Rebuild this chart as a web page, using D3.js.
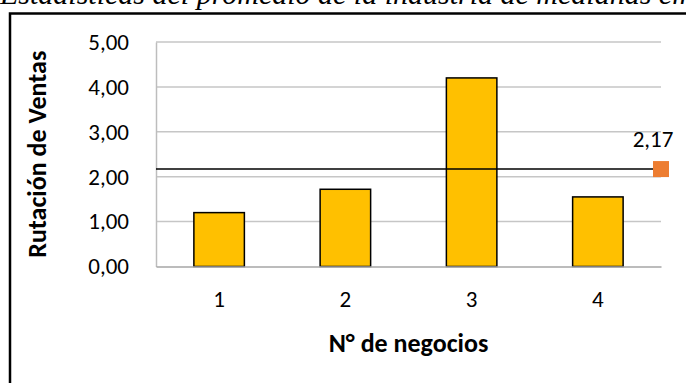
<!DOCTYPE html>
<html>
<head>
<meta charset="utf-8">
<script src="https://cdn.jsdelivr.net/npm/d3@7"></script>
<style>
  html, body { margin: 0; padding: 0; background: #fff; overflow: hidden; }
  svg { display: block; }
</style>
</head>
<body>
<svg id="chart" width="686" height="383"></svg>
<script>
// Sales turnover per business, with the industry average marked
const categories = ["1", "2", "3", "4"];
const rotacion = [1.20, 1.72, 4.20, 1.55];
const promedio = 2.17;
const yTicks = [0, 1, 2, 3, 4, 5];
const titulo = "Estadísticas del promedio de la industria de medianas empresas";
const yTitulo = "Rutación de Ventas";
const xTitulo = "N° de negocios";

const W = 686, H = 383;
const plot = { left: 156, right: 661, top: 42, bottom: 266.5 };
const sansFont = "Carlito, Calibri, Lato, 'Open Sans', sans-serif";

const svg = d3.select("#chart");
const locale = d3.formatLocale({ decimal: ",", thousands: ".", grouping: [3], currency: ["", ""] });
const fmt = locale.format(".2f");

const x = d3.scaleBand().domain(categories).range([plot.left, plot.right]).paddingInner(0.6).paddingOuter(0.3);
const y = d3.scaleLinear().domain([0, 5]).range([plot.bottom, plot.top]);

// Heading above the frame (partly outside the visible area)
svg.append("text")
  .attr("x", 0).attr("y", 4)
  .attr("font-family", "'Liberation Serif', 'Times New Roman', serif")
  .attr("font-style", "italic")
  .attr("font-size", 30)
  .attr("fill", "#000")
  .text(titulo);

// Outer frame of the chart object
svg.append("rect")
  .attr("x", 10).attr("y", 13.5)
  .attr("width", W + 20).attr("height", H + 20)
  .attr("fill", "none").attr("stroke", "#000").attr("stroke-width", 2.5);

// Horizontal gridlines
svg.append("g")
  .selectAll("line")
  .data(yTicks.filter(d => d > 0))
  .join("line")
  .attr("x1", plot.left).attr("x2", plot.right)
  .attr("y1", d => y(d)).attr("y2", d => y(d))
  .attr("stroke", "#c6c6c6").attr("stroke-width", 1.5);

// Y axis
const yAxis = svg.append("g")
  .attr("transform", `translate(${plot.left},0)`)
  .call(d3.axisLeft(y).tickValues(yTicks).tickFormat(fmt).tickSize(0).tickPadding(27));
yAxis.select(".domain").attr("stroke", "#bdbdbd").attr("stroke-width", 1.5);
yAxis.selectAll("text")
  .attr("font-family", sansFont).attr("font-size", 23).attr("fill", "#000");

// Bars
svg.append("g")
  .selectAll("rect")
  .data(rotacion)
  .join("rect")
  .attr("x", (d, i) => x(categories[i]))
  .attr("width", x.bandwidth())
  .attr("y", d => y(d))
  .attr("height", d => y(0) - y(d))
  .attr("fill", "#FFC000")
  .attr("stroke", "#000").attr("stroke-width", 1.5);

// X axis
const xAxis = svg.append("g")
  .attr("transform", `translate(0,${plot.bottom})`)
  .call(d3.axisBottom(x).tickSize(0).tickPadding(24));
xAxis.select(".domain").attr("stroke", "#a6a6a6").attr("stroke-width", 1.5);
xAxis.selectAll("text")
  .attr("font-family", sansFont).attr("font-size", 23).attr("fill", "#000");

// Industry average line with end marker and value label
const avgY = y(promedio);
svg.append("line")
  .attr("x1", plot.left).attr("x2", plot.right)
  .attr("y1", avgY).attr("y2", avgY)
  .attr("stroke", "#000").attr("stroke-width", 1.5);
svg.append("rect")
  .attr("x", plot.right - 8).attr("y", avgY - 8)
  .attr("width", 16).attr("height", 16)
  .attr("fill", "#ED7D31");
svg.append("text")
  .attr("x", plot.right - 8).attr("y", avgY - 22)
  .attr("text-anchor", "middle")
  .attr("font-family", sansFont).attr("font-size", 23).attr("fill", "#000")
  .text(fmt(promedio));

// Axis titles
svg.append("text")
  .attr("transform", `translate(46,${(plot.top + plot.bottom) / 2}) rotate(-90)`)
  .attr("text-anchor", "middle")
  .attr("font-family", sansFont).attr("font-weight", "bold").attr("font-size", 26)
  .attr("fill", "#000")
  .text(yTitulo);
svg.append("text")
  .attr("x", (plot.left + plot.right) / 2).attr("y", 352)
  .attr("text-anchor", "middle")
  .attr("font-family", sansFont).attr("font-weight", "bold").attr("font-size", 26)
  .attr("fill", "#000")
  .text(xTitulo);
</script>
</body>
</html>
